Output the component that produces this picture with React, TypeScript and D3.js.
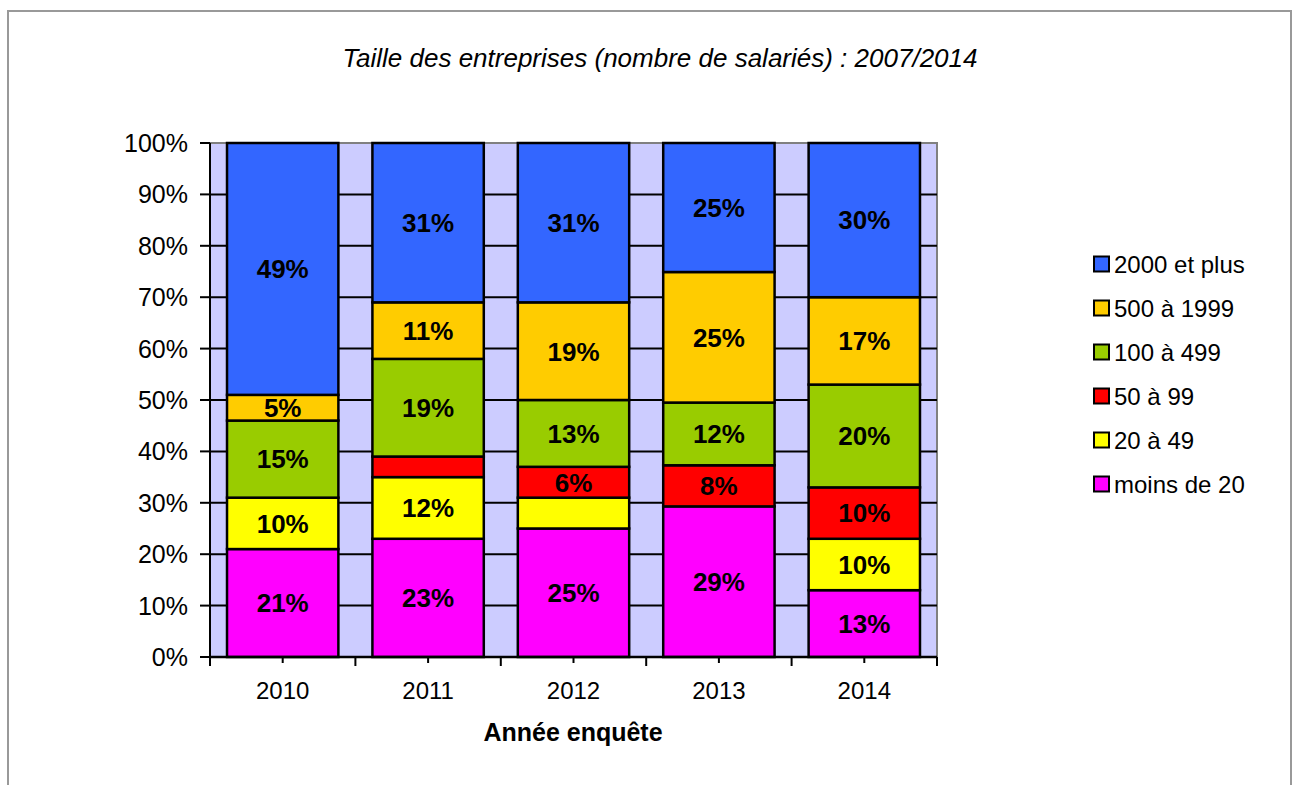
import React from 'react';
import * as d3 from 'd3';

// categories (years) and series, stacked bottom -> top
const years = ['2010', '2011', '2012', '2013', '2014'];
const seriesNames = ['moins de 20', '20 à 49', '50 à 99', '100 à 499', '500 à 1999', '2000 et plus'];
const moins20 = [21, 23, 25, 29.3, 13];
const de20a49 = [10, 12, 6, 0, 10];
const de50a99 = [0, 4, 6, 8, 10];
const de100a499 = [15, 19, 13, 12.2, 20];
const de500a1999 = [5, 11, 19, 25.4, 17];
const plus2000 = [49, 31, 31, 25.1, 30];
const seriesValues = [moins20, de20a49, de50a99, de100a499, de500a1999, plus2000];
const seriesColors = ['#FF00FF', '#FFFF00', '#FF0000', '#99CC00', '#FFCC00', '#3366FF'];
// labels that are not shown in the original (year, series)
const hiddenLabels = [['2011', '50 à 99'], ['2012', '20 à 49']];
const yTicks = [0, 10, 20, 30, 40, 50, 60, 70, 80, 90, 100];

const W = 1299;
const H = 785;
const plot = { left: 210, right: 937, top: 143, bottom: 657 };
const font = 'Arial, "Liberation Sans", Helvetica, sans-serif';

export default function App() {
  const x = d3.scaleBand<string>()
    .domain(years)
    .range([plot.left, plot.right])
    .paddingInner(0.234)
    .paddingOuter(0.117);
  const y = d3.scaleLinear().domain([0, 100]).range([plot.bottom, plot.top]);

  const table = years.map((yr, i) => {
    const row: any = { year: yr };
    seriesNames.forEach((s, j) => { row[s] = seriesValues[j][i]; });
    return row;
  });
  const stacked = d3.stack().keys(seriesNames)(table);

  const isHidden = (yr: string, s: string) => hiddenLabels.some(h => h[0] === yr && h[1] === s);
  const step = x.step();

  return (
    <svg width={W} height={H} style={{ position: 'absolute', left: 0, top: 0 }} fontFamily={font}>
      <rect x={0} y={0} width={W} height={H} fill="#fff" />
      <rect x={8} y={11} width={1283} height={800} fill="none" stroke="#999" strokeWidth={2} />

      <text x={660} y={67} textAnchor="middle" fontSize={26} fontStyle="italic" fill="#000">
        Taille des entreprises (nombre de salariés) : 2007/2014
      </text>

      {/* plot area */}
      <rect x={plot.left} y={plot.top} width={plot.right - plot.left} height={plot.bottom - plot.top}
        fill="#CCCCFF" stroke="#808080" strokeWidth={2} />
      {yTicks.filter(t => t > 0 && t < 100).map(t => (
        <line key={t} x1={plot.left} x2={plot.right} y1={y(t)} y2={y(t)} stroke="#000" strokeWidth={2} />
      ))}

      {/* bars */}
      {stacked.map((layer, j) => (
        <g key={seriesNames[j]}>
          {layer.map((d, i) => (d[1] - d[0] > 0 ? (
            <rect key={i} x={x(years[i])} y={y(d[1])} width={x.bandwidth()} height={y(d[0]) - y(d[1])}
              fill={seriesColors[j]} stroke="#000" strokeWidth={2.5} />
          ) : null))}
        </g>
      ))}
      {stacked.map((layer, j) => (
        <g key={'l' + seriesNames[j]}>
          {layer.map((d, i) => {
            const v = d[1] - d[0];
            if (v <= 0 || isHidden(years[i], seriesNames[j])) return null;
            return (
              <text key={i} x={(x(years[i]) as number) + x.bandwidth() / 2} y={y((d[0] + d[1]) / 2)}
                dy="0.36em" textAnchor="middle" fontSize={26} fontWeight="bold" fill="#000">
                {Math.round(v) + '%'}
              </text>
            );
          })}
        </g>
      ))}

      {/* y axis */}
      <line x1={plot.left} x2={plot.left} y1={plot.top} y2={plot.bottom} stroke="#000" strokeWidth={2} />
      {yTicks.map(t => (
        <g key={t}>
          <line x1={plot.left - 10} x2={plot.left} y1={y(t)} y2={y(t)} stroke="#000" strokeWidth={2} />
          <text x={188} y={y(t)} dy="0.36em" textAnchor="end" fontSize={25} fill="#000">{t + '%'}</text>
        </g>
      ))}

      {/* x axis */}
      <line x1={plot.left} x2={plot.right} y1={plot.bottom} y2={plot.bottom} stroke="#000" strokeWidth={2.5} />
      {d3.range(years.length + 1).map(k => (
        <line key={'b' + k} x1={plot.left + k * step} x2={plot.left + k * step} y1={plot.bottom} y2={plot.bottom + 9}
          stroke="#000" strokeWidth={2} />
      ))}
      {years.map(yr => (
        <g key={yr}>
          <line x1={(x(yr) as number) + x.bandwidth() / 2} x2={(x(yr) as number) + x.bandwidth() / 2}
            y1={plot.bottom} y2={plot.bottom + 6} stroke="#000" strokeWidth={2} />
          <text x={(x(yr) as number) + x.bandwidth() / 2} y={699} textAnchor="middle" fontSize={24} fill="#000">{yr}</text>
        </g>
      ))}
      <text x={573} y={741} textAnchor="middle" fontSize={25} fontWeight="bold" fill="#000">Année enquête</text>

      {/* legend */}
      {seriesNames.slice().reverse().map((s, k) => {
        const j = seriesNames.length - 1 - k;
        const cy = 264 + k * 44;
        return (
          <g key={s}>
            <rect x={1094} y={cy - 7.5} width={15} height={15} fill={seriesColors[j]} stroke="#000" strokeWidth={2} />
            <text x={1114} y={cy} dy="0.36em" fontSize={24} fill="#000">{s}</text>
          </g>
        );
      })}
    </svg>
  );
}
